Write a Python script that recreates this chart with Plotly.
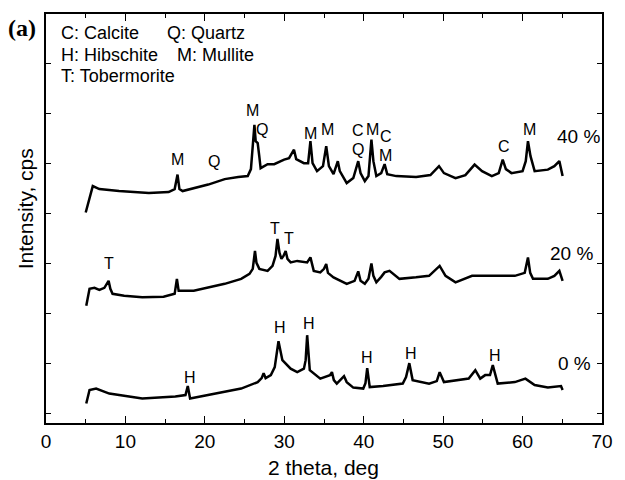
import plotly.graph_objects as go

# ---- data (2 theta in deg, intensity in offset arbitrary units) ----
x40 = [5.0, 5.89, 6.72, 9.2, 12.95, 15.44, 16.2, 16.56, 16.8, 17.2, 20.42, 22.5, 24.2, 25.4, 25.8,
       26.24, 26.4, 26.65, 26.85, 27.02, 27.9, 28.73, 29.98, 30.6, 31.22, 31.5, 32.47, 33.0, 33.29,
       33.56, 34.12, 34.87, 35.28, 35.62, 36.2, 36.74, 36.99, 37.86, 38.69, 39.31, 39.6, 40.14, 40.6,
       40.97, 41.22, 41.59, 42.2, 42.63, 42.96, 44.1, 46.6, 48.4, 49.48, 50.1, 51.56, 52.8, 53.96,
       54.9, 56.13, 57.0, 57.5, 57.9, 58.6, 60.0, 60.4, 60.68, 61.0, 61.52, 63.18, 64.0, 64.63, 65.04]
y40 = [4.02, 4.55, 4.49, 4.45, 4.41, 4.43, 4.49, 4.78, 4.49, 4.45, 4.58, 4.69, 4.73, 4.75, 4.89,
       5.78, 5.45, 5.41, 5.15, 4.91, 4.99, 4.99, 5.08, 5.11, 5.28, 5.09, 5.01, 5.01, 5.45,
       5.01, 4.85, 4.95, 5.35, 4.95, 4.79, 5.05, 4.85, 4.61, 4.71, 5.05, 4.81, 4.65, 4.75,
       5.48, 5.05, 4.75, 4.81, 4.99, 4.79, 4.75, 4.73, 4.77, 4.95, 4.81, 4.71, 4.77, 4.98,
       4.85, 4.75, 4.81, 5.08, 4.89, 4.81, 4.85, 5.05, 5.45, 5.15, 4.85, 4.88, 4.95, 5.05, 4.75]

x20 = [5.07, 5.48, 6.1, 6.72, 7.35, 7.88, 8.1, 8.38, 9.84, 12.12, 14.8, 16.2, 16.48, 16.7, 18.6,
       20.42, 22.5, 24.57, 25.62, 26.03, 26.31, 26.5, 26.86, 27.9, 28.52, 28.9, 29.14, 29.4, 29.64,
       29.9, 30.17, 30.4, 30.8, 31.63, 32.88, 33.29, 33.5, 33.71, 34.53, 35.0, 35.28, 35.5, 36.2,
       37.86, 38.85, 39.31, 39.6, 40.14, 40.6, 40.97, 41.22, 41.59, 42.2, 42.63, 43.25, 44.5, 46.58,
       48.23, 49.56, 50.3, 51.56, 53.64, 55.7, 57.37, 59.03, 60.27, 60.68, 60.96, 61.31, 63.18, 64.0,
       64.63, 65.04]
y20 = [2.15, 2.49, 2.51, 2.47, 2.51, 2.65, 2.49, 2.39, 2.35, 2.32, 2.33, 2.39, 2.69, 2.45, 2.45,
       2.51, 2.59, 2.69, 2.79, 2.89, 3.25, 3.01, 2.89, 2.85, 2.95, 3.15, 3.49, 3.21, 3.09,
       3.15, 3.25, 3.09, 3.02, 3.05, 3.02, 3.12, 2.95, 2.85, 2.82, 2.89, 2.99, 2.81, 2.72,
       2.59, 2.65, 2.84, 2.65, 2.59, 2.69, 3.0, 2.75, 2.62, 2.73, 2.82, 2.85, 2.69, 2.72,
       2.75, 2.95, 2.75, 2.62, 2.75, 2.75, 2.75, 2.75, 2.81, 3.12, 2.81, 2.69, 2.69, 2.75,
       2.85, 2.65]

x0 = [5.07, 5.48, 6.31, 7.97, 12.12, 16.28, 17.56, 17.85, 18.14, 20.42, 22.5, 24.57, 26.65, 27.15,
      27.4, 27.65, 28.31, 28.8, 29.27, 29.76, 30.8, 31.63, 32.47, 32.69, 32.88, 33.21, 34.53, 35.75,
      36.0, 36.24, 36.61, 37.52, 37.86, 38.69, 39.94, 40.22, 40.44, 40.76, 42.43, 44.92, 45.33, 45.74,
      46.16, 48.23, 49.2, 49.56, 50.1, 51.97, 53.22, 54.05, 54.67, 55.29, 55.9, 56.25, 56.87, 59.03,
      60.36, 61.52, 63.18, 64.84, 65.04]
y0 = [0.19, 0.46, 0.49, 0.39, 0.29, 0.33, 0.36, 0.54, 0.29, 0.36, 0.42, 0.49, 0.62, 0.7,
      0.8, 0.7, 0.76, 0.92, 1.44, 1.06, 0.89, 0.82, 0.89, 1.06, 1.56, 0.86, 0.69, 0.76,
      0.82, 0.66, 0.59, 0.74, 0.62, 0.51, 0.49, 0.6, 0.9, 0.52, 0.54, 0.59, 0.72, 1.0,
      0.66, 0.59, 0.64, 0.82, 0.62, 0.66, 0.69, 0.86, 0.69, 0.76, 0.76, 0.96, 0.59, 0.62,
      0.69, 0.56, 0.51, 0.54, 0.46]

# peak labels: (text, 2theta, intensity)
peak_labels = [
    ("M", 16.56, 5.09), ("Q", 21.13, 5.05), ("M", 26.03, 6.06), ("Q", 27.15, 5.68),
    ("M", 33.29, 5.61), ("M", 35.45, 5.68), ("C", 39.23, 5.66), ("Q", 39.23, 5.28),
    ("M", 41.1, 5.68), ("C", 42.75, 5.55), ("M", 42.75, 5.17), ("C", 57.7, 5.35),
    ("M", 60.9, 5.68),
    ("T", 7.88, 2.99), ("T", 28.8, 3.69), ("T", 30.6, 3.49),
    ("H", 18.14, 0.72), ("H", 29.48, 1.72), ("H", 33.09, 1.79), ("H", 40.44, 1.12),
    ("H", 45.95, 1.19), ("H", 56.54, 1.16),
]
series_labels = [("40 %", 67.1, 5.55), ("20 %", 66.2, 3.2), ("0 %", 66.5, 0.99)]
legend_lines = [("C: Calcite", 59, 31.5), ("Q: Quartz", 166, 31.5),
                ("H: Hibschite", 59, 53), ("M: Mullite", 176, 53),
                ("T: Tobermorite", 59, 74.5)]

FONT = "Liberation Sans, Arial, sans-serif"
fig = go.Figure()
for xs, ys in [(x40, y40), (x20, y20), (x0, y0)]:
    fig.add_trace(go.Scatter(x=xs, y=ys, mode="lines",
                             line=dict(color="black", width=2.5), showlegend=False,
                             hoverinfo="skip"))

ann = []
for t, x, y in peak_labels:
    ann.append(dict(text=t, x=x, y=y, xref="x", yref="y", showarrow=False,
                    font=dict(size=16, color="black", family=FONT)))
for t, x, y in series_labels:
    ann.append(dict(text=t, x=x, y=y, xref="x", yref="y", showarrow=False,
                    font=dict(size=19, color="black", family=FONT)))

# plot area in pixels: x 46..608, y 12..423
def px(xp):
    return (xp - 46) / 562.0

def py(yp):
    return (423 - yp) / 411.0

for t, xp, yp in legend_lines:
    ann.append(dict(text=t, x=px(xp), y=py(yp), xref="paper", yref="paper",
                    xanchor="left", yanchor="middle", showarrow=False,
                    font=dict(size=18, color="black", family=FONT)))
ann.append(dict(text="<b>(a)</b>", x=px(6), y=py(26), xref="paper", yref="paper",
                xanchor="left", yanchor="middle", showarrow=False,
                font=dict(size=24, color="black", family="Liberation Serif, Times New Roman, serif")))
ann.append(dict(text="2 theta, deg", x=px(326), y=py(468), xref="paper", yref="paper",
                xanchor="center", yanchor="middle", showarrow=False,
                font=dict(size=21, color="black", family=FONT)))
ann.append(dict(text="Intensity, cps", x=px(25), y=py(208), xref="paper", yref="paper",
                xanchor="center", yanchor="middle", showarrow=False, textangle=-90,
                font=dict(size=21, color="black", family=FONT)))

fig.update_layout(
    width=625, height=480,
    margin=dict(l=46, r=17, t=12, b=57),
    paper_bgcolor="white", plot_bgcolor="white",
    annotations=ann,
    xaxis=dict(range=[0, 70], tick0=0, dtick=10, ticks="inside", ticklen=7, tickwidth=1,
               tickcolor="black", showline=True, linecolor="black", linewidth=1.5,
               mirror="ticks", showgrid=False, zeroline=False,
               minor=dict(dtick=5, ticks="inside", ticklen=4, tickcolor="black", showgrid=False),
               tickfont=dict(size=19, color="black", family=FONT), ticklabelstandoff=0),
    yaxis=dict(range=[-0.2, 8.0], tick0=0, dtick=1, ticks="inside", ticklen=5,
               tickcolor="black", showline=True, linecolor="black", linewidth=1.5,
               mirror="ticks", showgrid=False, zeroline=False, showticklabels=False),
)

fig.write_html("out.html")
